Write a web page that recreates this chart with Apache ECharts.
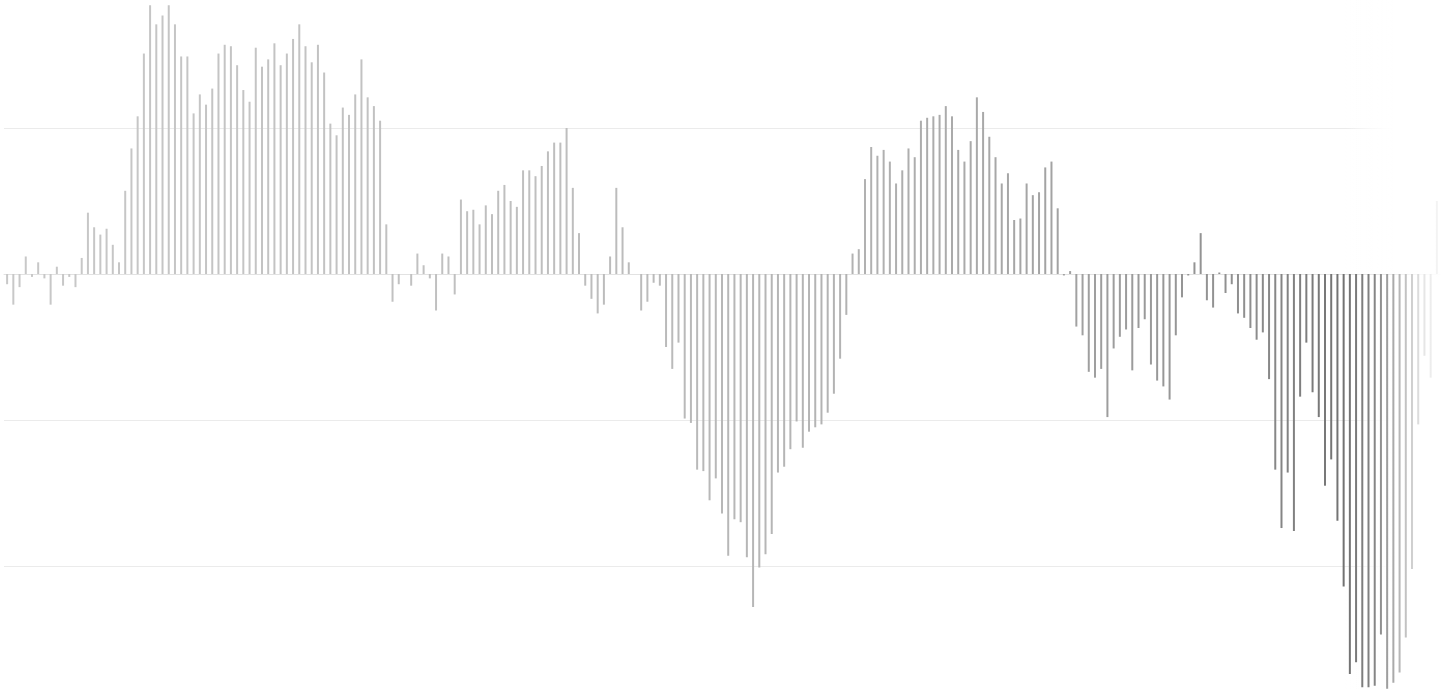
<!DOCTYPE html>
<html>
<head>
<meta charset="utf-8">
<title>bar</title>
<script src="https://cdn.jsdelivr.net/npm/echarts@6/dist/echarts.min.js"></script>
<style>
  html, body { margin: 0; padding: 0; background: #fff; overflow: hidden; }
  /* 图表比窗口高一些，上下两条网格线在窗口外 */
  #main { position: absolute; left: 0; top: -18px; width: 1442px; height: 730px; }
</style>
</head>
<body>
<div id="main"></div>
<script>
// 数值，网格线间隔 = 100
const values = [
  -7, -21, -9, 12, -2, 8, -3, -21, 5, -8, -2, -9, 11, 42, 32, 27, 31, 20, 8, 57,
  86, 108, 151, 184, 171, 177, 184, 171, 149, 149, 110, 123, 116, 127, 151, 157, 156, 143, 126, 118,
  155, 142, 147, 158, 143, 151, 161, 171, 156, 145, 157, 138, 103, 95, 114, 109, 123, 147, 121, 115,
  105, 34, -19, -7, 0, -8, 14, 6, -3, -25, 14, 12, -14, 51, 43, 44, 34, 47, 41, 57,
  61, 50, 46, 71, 71, 67, 74, 84, 90, 90, 100, 59, 28, -8, -17, -27, -21, 12, 59, 32,
  8, 0, -25, -19, -6, -8, -50, -65, -47, -99, -102, -134, -135, -155, -140, -164, -193, -168, -170, -194,
  -228, -201, -192, -178, -136, -132, -120, -101, -119, -108, -105, -103, -95, -82, -58, -28, 14, 17, 65, 87,
  81, 85, 77, 62, 71, 86, 80, 105, 107, 108, 109, 115, 108, 85, 77, 91, 121, 111, 94, 80,
  62, 69, 37, 38, 62, 54, 56, 73, 77, 45, -1, 2, -36, -42, -67, -71, -65, -98, -51, -43,
  -38, -66, -37, -31, -62, -73, -77, -86, -42, -16, -1, 8, 28, -18, -23, 1, -13, -7, -27, -30,
  -37, -45, -40, -72, -134, -174, -136, -176, -84, -47, -81, -98, -145, -127, -169, -214, -274, -266, -283, -283,
  -282, -247, -284, -280, -273, -249, -202, -103, -56, -71, 50
];

// 类目（图上没有标签）
const categories = values.map((v, i) => String(i + 1));

// 坐标轴范围
const yMin = -300;
const yMax = 200;
const yStep = 100;

// 颜色从左到右逐渐变深
const colorStops = [
  [0, [200, 200, 200]],
  [90, [190, 190, 190]],
  [136, [178, 178, 178]],
  [170, [162, 162, 162]],
  [200, [142, 142, 142]],
  [215, [114, 114, 114]],
  [230, [104, 104, 104]]
];

function barColor(i) {
  for (let k = 1; k < colorStops.length; k++) {
    const a = colorStops[k - 1], b = colorStops[k];
    if (i <= b[0]) {
      const t = (i - a[0]) / (b[0] - a[0]);
      const c = a[1].map((x, j) => Math.round(x + (b[1][j] - x) * t));
      return 'rgb(' + c.join(',') + ')';
    }
  }
  return 'rgb(104,104,104)';
}

function whiteFade(stops) {
  return new echarts.graphic.LinearGradient(0, 0, 1, 0, stops.map(s => ({
    offset: s[0], color: 'rgba(255,255,255,' + s[1] + ')'
  })));
}

// 网格线在右侧比柱子更早淡出（z=1，在柱子下面）
const gridFade = whiteFade([[0, 0], [0.25, 0.6], [0.5, 1], [1, 1]]);

const myChart = echarts.init(document.getElementById('main'));

myChart.setOption({
  animation: false,
  grid: { left: 4, right: 2, top: 0, bottom: 0 },
  xAxis: {
    type: 'category',
    data: categories,
    axisLine: { lineStyle: { color: '#e2e2e2' } },
    axisTick: { interval: 2, length: 3, lineStyle: { color: '#d4d4d4' } },
    axisLabel: { show: false },
    splitLine: { show: false }
  },
  yAxis: {
    type: 'value',
    min: yMin,
    max: yMax,
    interval: yStep,
    axisLine: { show: false },
    axisTick: { show: false },
    axisLabel: { show: false },
    splitLine: { lineStyle: { color: '#ebebeb' } }
  },
  series: [{
    type: 'bar',
    data: values,
    barWidth: 2,
    z: 2,
    itemStyle: {
      color: (p) => barColor(p.dataIndex)
    }
  }],
  graphic: [
    {
      type: 'rect', right: 0, top: 0, z: 1,
      shape: { width: 97, height: 289 },
      style: { fill: gridFade }
    },
    {
      type: 'rect', right: 0, top: 296, z: 1,
      shape: { width: 97, height: 434 },
      style: { fill: gridFade }
    },
    // 右侧渐隐
    {
      type: 'rect', right: 0, top: 0, z: 100,
      shape: { width: 97, height: 730 },
      style: {
        fill: whiteFade([[0, 0], [0.3, 0.15], [0.45, 0.35], [0.6, 0.56], [0.8, 0.82], [1, 0.96]])
      }
    }
  ]
});
</script>
</body>
</html>
